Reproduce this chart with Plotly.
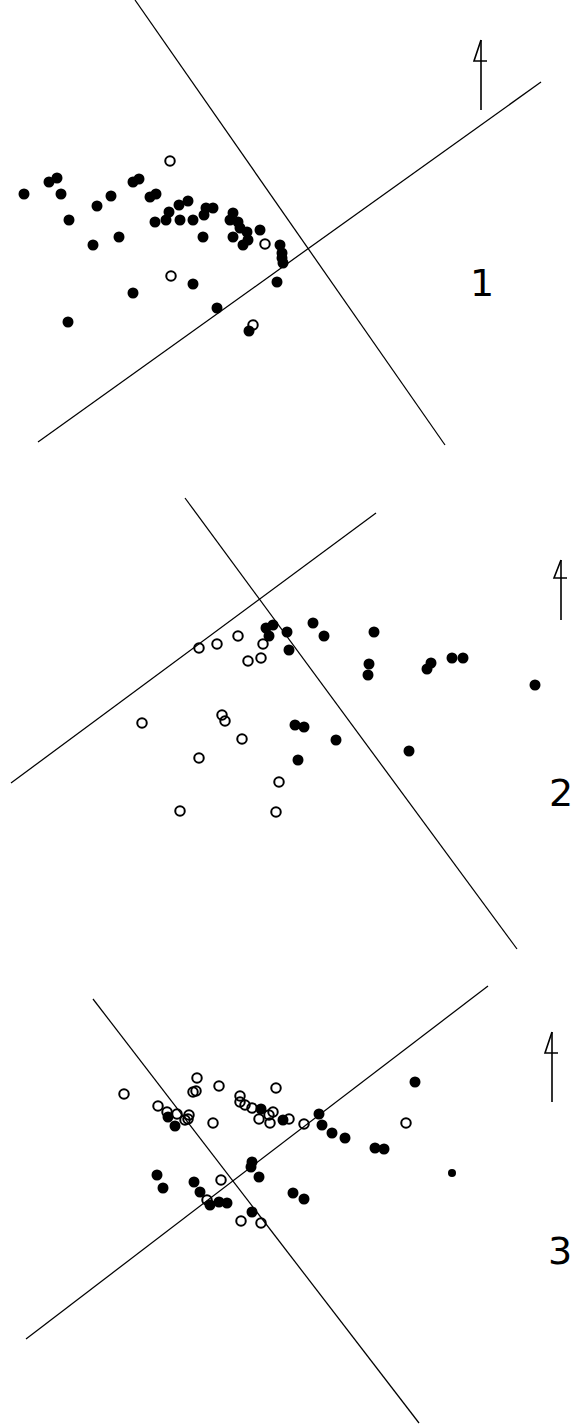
import plotly.graph_objects as go

# ---------------- data (map coordinates, y grows downward) ----------------
# Panel 1
p1_filled_x = [24, 49, 57, 61, 69, 97, 111, 93, 119, 133, 139, 150, 156, 155, 166, 169, 180, 179, 188, 193,
               204, 206, 213, 203, 230, 233, 238, 233, 240, 247, 243, 248, 260, 280, 282, 283, 282, 277, 193,
               133, 217, 68, 249]
p1_filled_y = [194, 182, 178, 194, 220, 206, 196, 245, 237, 182, 179, 197, 194, 222, 220, 212, 220, 205, 201, 220,
               215, 208, 208, 237, 220, 213, 222, 237, 228, 232, 245, 240, 230, 245, 253, 263, 258, 282, 284,
               293, 308, 322, 331]
p1_open_x = [170, 265, 171, 253]
p1_open_y = [161, 244, 276, 325]
p1_line_a = ([135, 445], [0, 445])
p1_line_b = ([38, 541], [442, 82])

# Panel 2
p2_filled_x = [266, 273, 269, 287, 289, 313, 324, 374, 369, 368, 427, 431, 452, 463, 535,
               295, 304, 336, 298, 409]
p2_filled_y = [628, 625, 636, 632, 650, 623, 636, 632, 664, 675, 669, 663, 658, 658, 685,
               725, 727, 740, 760, 751]
p2_open_x = [199, 217, 238, 263, 248, 261, 142, 222, 225, 242, 199, 279, 180, 276]
p2_open_y = [648, 644, 636, 644, 661, 658, 723, 715, 721, 739, 758, 782, 811, 812]
p2_line_a = ([185, 517], [498, 949])
p2_line_b = ([11, 376], [783, 513])

# Panel 3
p3_filled_x = [168, 175, 261, 283, 319, 322, 332, 345, 375, 384, 415,
               157, 163, 194, 200, 210, 219, 227, 252, 251, 259, 293, 304, 252]
p3_filled_y = [1117, 1126, 1109, 1120, 1114, 1125, 1133, 1138, 1148, 1149, 1082,
               1175, 1188, 1182, 1192, 1205, 1202, 1203, 1162, 1167, 1177, 1193, 1199, 1212]
p3_open_x = [124, 197, 193, 196, 219, 276, 158, 167, 177, 185, 189, 188, 213,
             240, 240, 245, 252, 259, 270, 273, 269, 289, 304, 406, 221, 207, 241, 261]
p3_open_y = [1094, 1078, 1092, 1091, 1086, 1088, 1106, 1112, 1114, 1120, 1115, 1119, 1123,
             1096, 1102, 1105, 1108, 1119, 1123, 1112, 1115, 1119, 1124, 1123, 1180, 1200, 1221, 1223]
p3_partial_x = [452]
p3_partial_y = [1173]
p3_line_a = ([93, 419], [999, 1423])
p3_line_b = ([26, 488], [1339, 986])

# North arrows: (x of shaft, top y, bottom y)
arrow_x = [481, 561, 552]
arrow_top = [40, 560, 1032]
arrow_bottom = [110, 620, 1102]

panel_labels = ["1", "2", "3"]
label_x = [482, 561, 560]
label_y = [283, 793, 1251]

# ---------------- figure ----------------
W, H = 572, 1427
fig = go.Figure()

def add_line(pair):
    fig.add_trace(go.Scatter(x=pair[0], y=pair[1], mode="lines",
                             line=dict(color="black", width=1.25),
                             hoverinfo="skip", showlegend=False, cliponaxis=False))

for pair in [p1_line_a, p1_line_b, p2_line_a, p2_line_b, p3_line_a, p3_line_b]:
    add_line(pair)

filled_marker = dict(symbol="circle", size=11, color="black", line=dict(width=0))
open_marker = dict(symbol="circle-open", size=9.5, color="black", line=dict(width=2, color="black"))

for fx, fy in [(p1_filled_x, p1_filled_y), (p2_filled_x, p2_filled_y), (p3_filled_x, p3_filled_y)]:
    fig.add_trace(go.Scatter(x=fx, y=fy, mode="markers", marker=filled_marker,
                             hoverinfo="skip", showlegend=False))
fig.add_trace(go.Scatter(x=p3_partial_x, y=p3_partial_y, mode="markers",
                         marker=dict(symbol="circle", size=8, color="black"),
                         hoverinfo="skip", showlegend=False))
for ox, oy in [(p1_open_x, p1_open_y), (p2_open_x, p2_open_y), (p3_open_x, p3_open_y)]:
    fig.add_trace(go.Scatter(x=ox, y=oy, mode="markers", marker=open_marker,
                             hoverinfo="skip", showlegend=False))

# north arrows drawn as a "4"-like head over a shaft
for ax, at, ab in zip(arrow_x, arrow_top, arrow_bottom):
    head = (ab - at) * 0.3
    xs = [ax, ax, None, ax, ax - 7, ax + 6]
    ys = [at, ab, None, at, at + head, at + head]
    fig.add_trace(go.Scatter(x=xs, y=ys, mode="lines",
                             line=dict(color="black", width=1.6),
                             hoverinfo="skip", showlegend=False))

for t, lx, ly in zip(panel_labels, label_x, label_y):
    fig.add_annotation(x=lx, y=ly, text=t, showarrow=False,
                       font=dict(family="DejaVu Sans", size=38, color="black"),
                       xanchor="center", yanchor="middle")

fig.update_xaxes(range=[0, W], visible=False, fixedrange=True)
fig.update_yaxes(range=[H, 0], visible=False, fixedrange=True)
fig.update_layout(width=W, height=H, margin=dict(l=0, r=0, t=0, b=0),
                  paper_bgcolor="white", plot_bgcolor="white", showlegend=False,
                  hovermode=False)

fig.write_html("out.html",
               config={"displayModeBar": False, "staticPlot": True},
               post_script="document.body.style.margin='0';document.body.style.overflow='hidden';")
